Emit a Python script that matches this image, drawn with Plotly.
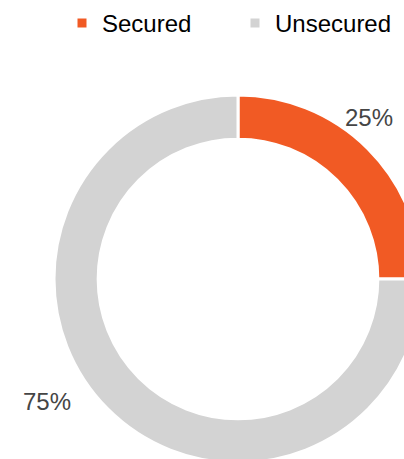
import plotly.graph_objects as go

# Share of secured vs unsecured
labels = ["Secured", "Unsecured"]
values = [25, 75]
colors = ["#F15A24", "#D3D3D3"]

total = sum(values)
shares = [v / total for v in values]

# Page geometry (pixels)
W, H = 422, 463
ML, MT = 54, 95
PW, PH = W - ML, H - MT


def px_to_paper(x, y):
    return (x - ML) / PW, 1 - (y - MT) / PH


fig = go.Figure(
    go.Pie(
        labels=labels,
        values=values,
        hole=0.76,
        sort=False,
        direction="clockwise",
        rotation=0,
        marker=dict(colors=colors, line=dict(color="white", width=3)),
        textinfo="none",
        hoverinfo="label+percent",
    )
)

# Percentage labels outside the ring
label_pos = [(369, 117), (47, 401)]
for share, (lx, ly) in zip(shares, label_pos):
    ax, ay = px_to_paper(lx, ly)
    fig.add_annotation(
        x=ax, y=ay, xref="paper", yref="paper",
        text=f"{share:.0%}", showarrow=False,
        xanchor="center", yanchor="middle",
        font=dict(family="Liberation Sans, Arial", size=24, color="#454545"),
    )

lx, ly = px_to_paper(62, 23.5)
fig.update_layout(
    width=W,
    height=H,
    margin=dict(l=ML, r=0, t=MT, b=0, autoexpand=False),
    paper_bgcolor="white",
    plot_bgcolor="white",
    showlegend=True,
    legend=dict(
        orientation="h",
        x=lx, y=ly, xanchor="left", yanchor="middle",
        font=dict(family="Liberation Sans, Arial", size=24, color="#000000"),
        itemwidth=30,
        entrywidth=128,
        bgcolor="rgba(0,0,0,0)",
    ),
)

fig.write_html("out.html", post_script="document.documentElement.style.overflow='hidden';document.body.style.overflow='hidden';")
